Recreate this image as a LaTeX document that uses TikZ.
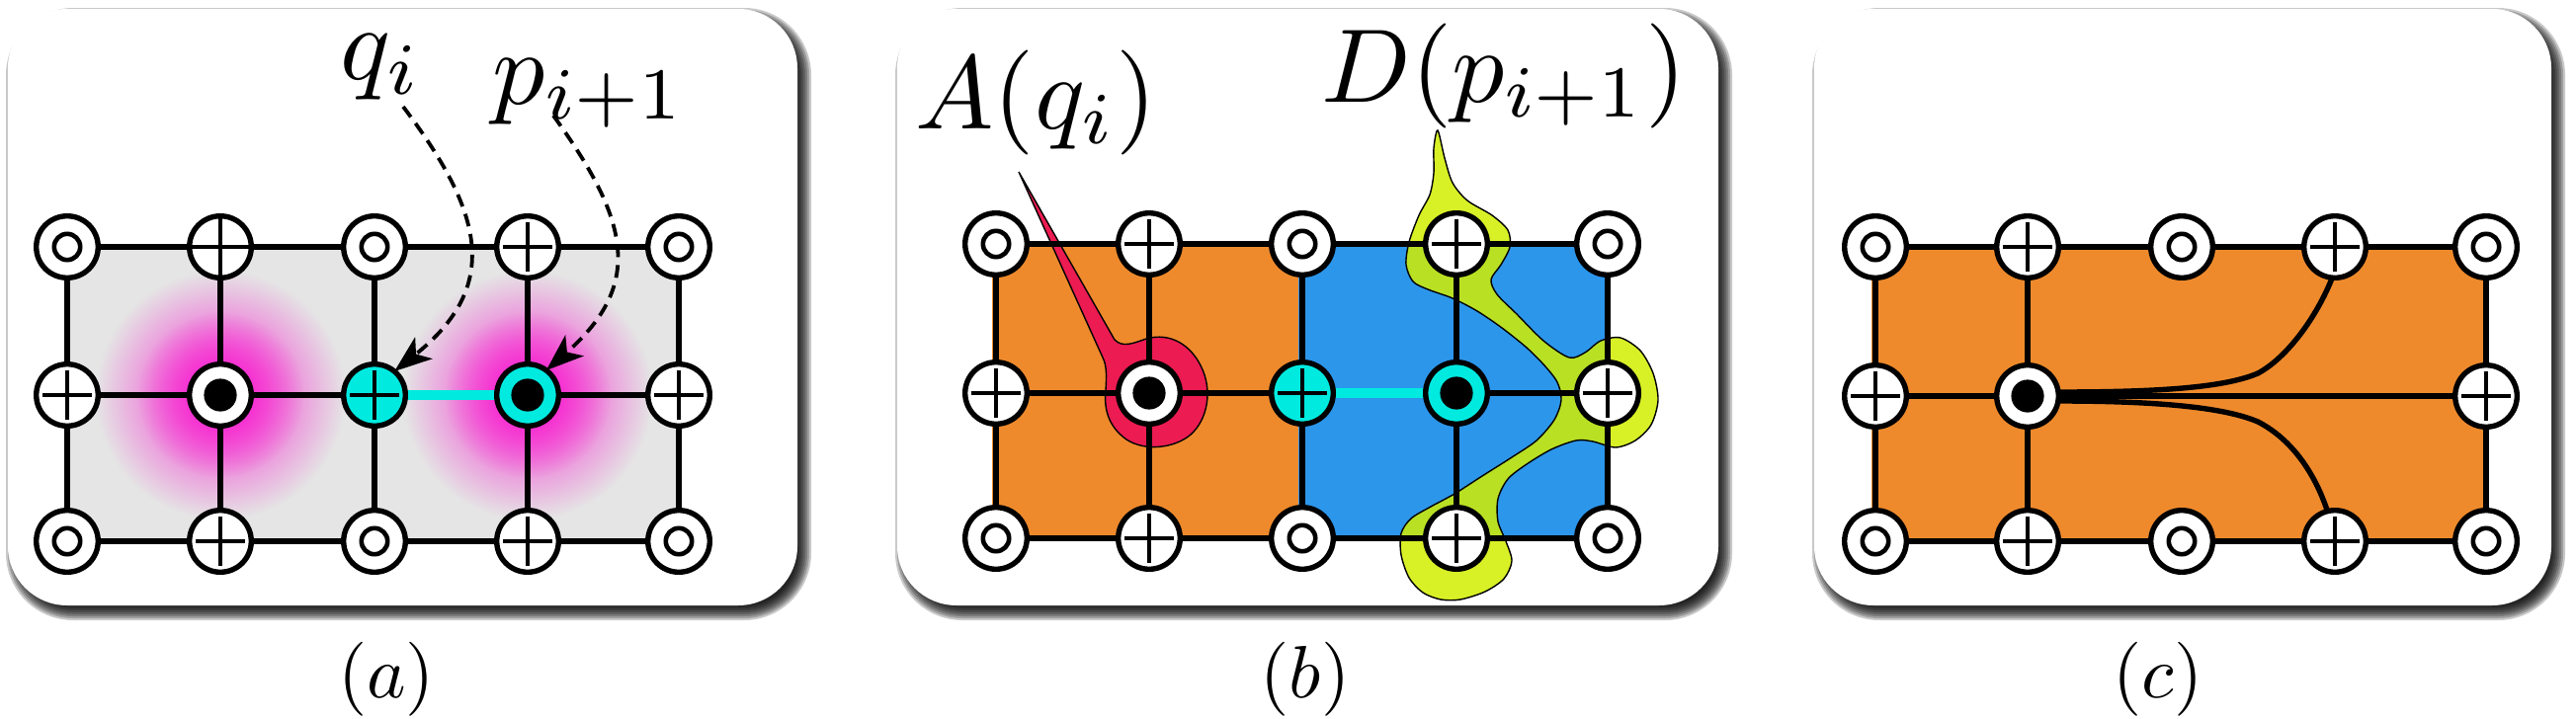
\documentclass[tikz,border=0pt]{standalone}
\usetikzlibrary{arrows.meta,fadings}
\definecolor{cyanc}{RGB}{0,234,224}
\definecolor{grayc}{RGB}{229,229,229}
\definecolor{pinkc}{RGB}{248,30,208}
\definecolor{orangec}{RGB}{238,138,44}
\definecolor{bluec}{RGB}{44,150,235}
\definecolor{redc}{RGB}{236,27,82}
\definecolor{yellowc}{RGB}{210,238,0}
\tikzfading[name=pinkfade, inner color=transparent!0, outer color=transparent!100]
\tikzset{
  site/.style={circle, draw=black, line width=2.7pt, fill=white, minimum size=31.3pt, inner sep=0pt, outer sep=0pt},
  osite/.style={site, path picture={\draw[black, line width=2.3pt] (path picture bounding box.center) circle (6.6pt);}},
  psite/.style={site, path picture={\draw[black, line width=2.4pt]
      ([xshift=-12.5pt]path picture bounding box.center) -- ([xshift=12.5pt]path picture bounding box.center)
      ([yshift=-12.5pt]path picture bounding box.center) -- ([yshift=12.5pt]path picture bounding box.center);}},
  pfsite/.style={site, path picture={\draw[black, line width=2.4pt]
      ([xshift=-17pt]path picture bounding box.center) -- ([xshift=17pt]path picture bounding box.center)
      ([yshift=-17pt]path picture bounding box.center) -- ([yshift=17pt]path picture bounding box.center);}},
  dsite/.style={site, path picture={\fill[black] (path picture bounding box.center) circle (8.3pt);}},
  cy/.style={fill=cyanc},
  gridline/.style={line width=2.6pt, line cap=butt},
  cyanline/.style={draw=cyanc, line width=4.8pt},
  curveline/.style={line width=2.7pt},
  dasharrow/.style={line width=1.9pt, dash pattern=on 6.5pt off 4pt, -{Stealth[length=19pt,width=14pt,inset=5pt]}},
  labnode/.style={inner sep=0pt},
  capnode/.style={inner sep=0pt},
  blobline/.style={draw=black, line width=0.7pt}
}
\newcommand\panelframe[4]{%
  \foreach \e in {0,2,...,14} {%
    \pgfmathsetmacro\rr{27+0.5*\e}%
    \fill[black, opacity=0.21, rounded corners=\rr pt] ({#1+12-\e},{#2+13-\e}) rectangle ({#3+\e},{#4+1+\e});
  }%
  \fill[white, rounded corners=30pt] (#1,#2) rectangle (#3,#4);
}
\newcommand\biglab[1]{\scalebox{5.3}{$#1$}}
\newcommand\capt[1]{\scalebox{3.75}{$#1$}}
\begin{document}
\begin{tikzpicture}[x=0.5pt,y=-0.5pt]
\fill[white] (0,0) rectangle (2607,728);
\useasboundingbox (0,0) rectangle (2607,728);

% frames
\panelframe{8}{9}{807}{613}
\panelframe{908}{9}{1739}{613}
\panelframe{1836}{9}{2582}{613}

% grid coordinates
\foreach \c/\x in {1/68,2/223,3/379,4/534,5/687}
  \foreach \r/\y in {1/250,2/400,3/548} \coordinate (A\r\c) at (\x,\y);
\foreach \c/\x in {1/1008,2/1163,3/1318,4/1474,5/1627}
  \foreach \r/\y in {1/247,2/398,3/545} \coordinate (B\r\c) at (\x,\y);
\foreach \c/\x in {1/1898,2/2052,3/2208,4/2363,5/2516}
  \foreach \r/\y in {1/250,2/401,3/548} \coordinate (C\r\c) at (\x,\y);

% ---------- panel (a) ----------
\fill[grayc] (A11) rectangle (A35);
\foreach \p in {A22,A24} {
  \fill[pinkc, path fading=pinkfade] (\p) circle (63pt);
  \fill[pinkc, path fading=pinkfade] (\p) circle (42pt);
}
\draw[gridline] (A11) -- (A15) (A31) -- (A35) (A21) -- (A23) (A24) -- (A25);
\foreach \c in {1,...,5} \draw[gridline] (A1\c) -- (A3\c);
\draw[cyanline] (A23) -- (A24);

% ---------- panel (b) ----------
\fill[orangec] ([xshift=-2pt]B11) rectangle (B33);
\fill[bluec] ([xshift=-2pt]B13) rectangle (B35);
\filldraw[fill=redc, blobline] (1031,174) -- (1128,344)
  .. controls (1136,352) and (1146,348) .. (1160,343)
  .. controls (1185,336) and (1205,350) .. (1215,370)
  .. controls (1228,395) and (1222,425) .. (1205,440)
  .. controls (1190,453) and (1160,458) .. (1140,445)
  .. controls (1122,432) and (1117,415) .. (1119,395)
  .. controls (1120,380) and (1120,370) .. (1116,362) -- cycle;
\filldraw[fill=yellowc, fill opacity=0.85, blobline] plot[smooth cycle, tension=0.5] coordinates {
 (1455,132) (1462,160) (1470,185) (1485,203) (1510,218) (1526,233) (1528,250) (1519,268)
 (1509,283) (1515,298) (1535,318) (1562,345) (1588,362) (1604,357) (1620,345) (1640,342)
 (1660,355) (1673,378) (1678,405) (1671,430) (1655,446) (1635,453) (1612,447) (1595,446)
 (1570,455) (1545,470) (1526,485) (1516,505) (1516,528) (1524,548) (1530,568) (1522,586)
 (1503,599) (1478,607) (1458,607) (1440,600) (1426,585) (1418,562) (1418,540) (1428,525)
 (1448,513) (1472,500) (1500,482) (1530,463) (1555,446) (1573,425) (1580,405) (1576,387)
 (1563,370) (1545,352) (1520,332) (1495,315) (1470,302) (1445,293) (1430,285) (1423,268)
 (1426,245) (1436,218) (1447,197) (1451,175) (1451,150)};
\draw[gridline] (B11) -- (B15) (B31) -- (B35) (B21) -- (B23) (B24) -- (B25);
\foreach \c in {1,...,5} \draw[gridline] (B1\c) -- (B3\c);
\draw[cyanline] (B23) -- (B24);

% ---------- panel (c) ----------
\fill[orangec] ([xshift=-2pt]C11) rectangle (C35);
\draw[gridline] (C11) -- (C15) (C31) -- (C35) (C21) -- (C25);
\foreach \c in {1,2,5} \draw[gridline] (C1\c) -- (C3\c);

% ---------- nodes ----------
\node[osite] (a11) at (A11) {}; \node[pfsite] (a12) at (A12) {}; \node[osite] (a13) at (A13) {};
\node[psite] (a14) at (A14) {}; \node[osite] (a15) at (A15) {};
\node[psite] (a21) at (A21) {}; \node[dsite] (a22) at (A22) {}; \node[psite,cy] (a23) at (A23) {};
\node[dsite,cy] (a24) at (A24) {}; \node[psite] (a25) at (A25) {};
\node[osite] (a31) at (A31) {}; \node[psite] (a32) at (A32) {}; \node[osite] (a33) at (A33) {};
\node[psite] (a34) at (A34) {}; \node[osite] (a35) at (A35) {};

\node[osite] (b11) at (B11) {}; \node[psite] (b12) at (B12) {}; \node[osite] (b13) at (B13) {};
\node[psite] (b14) at (B14) {}; \node[osite] (b15) at (B15) {};
\node[psite] (b21) at (B21) {}; \node[dsite] (b22) at (B22) {}; \node[psite,cy] (b23) at (B23) {};
\node[dsite,cy] (b24) at (B24) {}; \node[psite] (b25) at (B25) {};
\node[osite] (b31) at (B31) {}; \node[psite] (b32) at (B32) {}; \node[osite] (b33) at (B33) {};
\node[psite] (b34) at (B34) {}; \node[osite] (b35) at (B35) {};

\node[osite] (c11) at (C11) {}; \node[psite] (c12) at (C12) {}; \node[osite] (c13) at (C13) {};
\node[psite] (c14) at (C14) {}; \node[osite] (c15) at (C15) {};
\node[psite] (c21) at (C21) {}; \node[dsite] (c22) at (C22) {}; \node[psite] (c25) at (C25) {};
\node[osite] (c31) at (C31) {}; \node[psite] (c32) at (C32) {}; \node[osite] (c33) at (C33) {};
\node[psite] (c34) at (C34) {}; \node[osite] (c35) at (C35) {};

% curves in (c)
\draw[curveline] ([yshift=2pt]c22.east) .. controls (2180,397) and (2250,393) .. (2285,378)
  .. controls (2315,362) and (2345,320) .. (c14.-95);
\draw[curveline] ([yshift=-2.5pt]c22.east) .. controls (2180,406) and (2250,412) .. (2285,427)
  .. controls (2320,445) and (2343,480) .. (c34.104);

% labels
\node[labnode, anchor=base west] (qlab) at (344,80) {\biglab{q_i}};
\node[labnode, anchor=base west] (plab) at (498,105) {\biglab{p_{i+1}}};
\node[labnode, anchor=base west] (alab) at (926,130) {\biglab{A(q_i)}};
\node[labnode, anchor=base west] (dlab) at (1337,103) {\biglab{D(p_{i+1})}};
\coordinate (qs) at (408,108);
\coordinate (ps) at (560,117);
\draw[dasharrow] (qs) .. controls (489,215) and (508,289) .. (a23.50);
\draw[dasharrow] (ps) .. controls (636,222) and (653,287) .. (a24.53);

\node[capnode, anchor=base] (capa) at (391,706) {\capt{(a)}};
\node[capnode, anchor=base] (capb) at (1321,706) {\capt{(b)}};
\node[capnode, anchor=base] (capc) at (2184,706) {\capt{(c)}};
\end{tikzpicture}
\end{document}
